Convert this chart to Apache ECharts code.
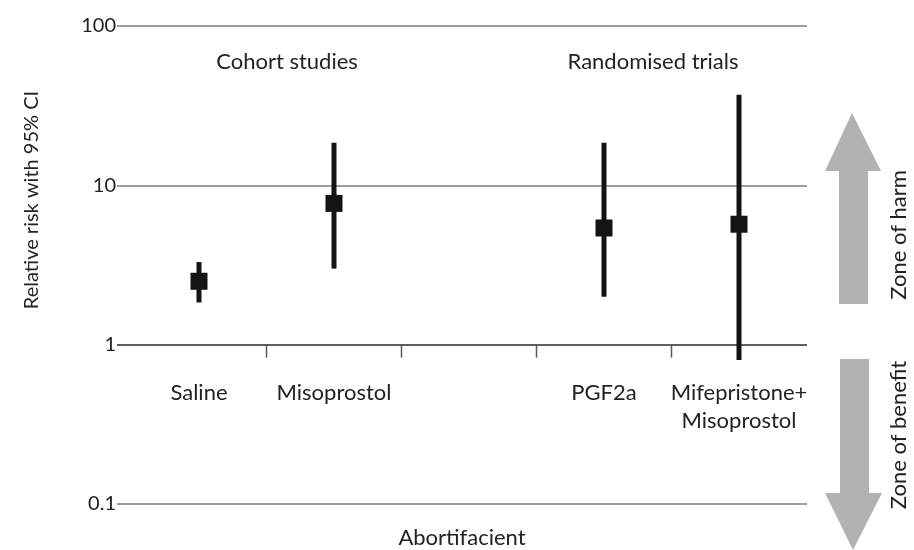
<!DOCTYPE html>
<html>
<head>
<meta charset="utf-8">
<script src="https://cdn.jsdelivr.net/npm/echarts@6/dist/echarts.min.js"></script>
<style>
  html, body { margin: 0; padding: 0; background: #ffffff; }
  #chart { width: 914px; height: 550px; }
</style>
</head>
<body>
<div id="chart"></div>
<script>
// ---- data ----
const categories = ['Saline', 'Misoprostol', '', 'PGF2a', 'Mifepristone+\nMisoprostol'];
const relativeRisk = [2.5, 7.7, null, 5.4, 5.7];
const ciLower = [1.84, 3.0, null, 2.0, 0.8];
const ciUpper = [3.3, 18.5, null, 18.5, 37];
const yMin = 0.1;
const yMax = 100;
const groupLabels = ['Cohort studies', 'Randomised trials'];
const xAxisTitle = 'Abortifacient';
const yAxisTitle = 'Relative risk with 95% CI';
const zoneLabels = ['Zone of harm', 'Zone of benefit'];
// boundaries between category bands where tick marks are drawn
const tickBoundaries = [1, 2, 3, 4];

const FONT = 'Lato';
const TXT = '#222222';

const chart = echarts.init(document.getElementById('chart'), null, { renderer: 'canvas' });

const ciData = [];
categories.forEach(function (c, i) {
  if (relativeRisk[i] != null) ciData.push([i, ciLower[i], ciUpper[i], relativeRisk[i]]);
});

function txt(x, y, text, rot, size) {
  return {
    type: 'text', x: x, y: y, rotation: rot || 0,
    style: { text: text, fill: TXT, font: (size || 22) + 'px ' + FONT, textAlign: 'center', textVerticalAlign: 'middle' }
  };
}

const option = {
  animation: false,
  backgroundColor: '#ffffff',
  textStyle: { fontFamily: FONT },
  grid: [
    { left: 117, right: 107, top: 26, bottom: 46 },
    { left: 131.5, right: 107.5, top: 26, bottom: 46 }
  ],
  xAxis: [
    { gridIndex: 0, type: 'value', min: 0, max: 1, show: false },
    {
      gridIndex: 1, type: 'category', data: categories, offset: -159,
      axisLine: { show: false, onZero: false },
      axisTick: { show: false },
      axisLabel: {
        interval: 0, margin: 34, color: TXT, fontFamily: FONT, fontSize: 22, lineHeight: 28
      },
      splitLine: { show: false }
    }
  ],
  yAxis: [
    {
      gridIndex: 0, type: 'log', logBase: 10, min: yMin, max: yMax,
      axisLine: { show: false }, axisTick: { show: false },
      axisLabel: { margin: 1, color: TXT, fontFamily: FONT, fontSize: 20 },
      splitLine: { show: true, lineStyle: { color: ['#7d7d7d', '#2a2a2a', '#7d7d7d', '#7d7d7d'], width: 1.5 } }
    },
    { gridIndex: 1, type: 'log', logBase: 10, min: yMin, max: yMax, show: false }
  ],
  series: [
    {
      type: 'custom', xAxisIndex: 1, yAxisIndex: 1, clip: false,
      data: tickBoundaries.map(function (b) { return [b, 1]; }),
      renderItem: function (params, api) {
        const p = api.coord([api.value(0), api.value(1)]);
        const band = api.size([1, 0])[0];
        const x = p[0] - band / 2;
        return {
          type: 'line',
          shape: { x1: x, y1: p[1], x2: x, y2: p[1] + 13 },
          style: { stroke: '#5a5a5a', lineWidth: 1.5 }
        };
      }
    },
    {
      type: 'custom', xAxisIndex: 1, yAxisIndex: 1, clip: false,
      data: ciData,
      renderItem: function (params, api) {
        const x = api.value(0);
        const lo = api.coord([x, api.value(1)]);
        const hi = api.coord([x, api.value(2)]);
        const mid = api.coord([x, api.value(3)]);
        const s = 17;
        return {
          type: 'group',
          children: [
            { type: 'line', shape: { x1: lo[0], y1: lo[1], x2: hi[0], y2: hi[1] },
              style: { stroke: '#141414', lineWidth: 5 } },
            { type: 'rect', shape: { x: mid[0] - s / 2, y: mid[1] - s / 2, width: s, height: s },
              style: { fill: '#141414' } }
          ]
        };
      }
    }
  ],
  graphic: [
    txt(287, 62, groupLabels[0]),
    txt(653, 62, groupLabels[1]),
    txt(462, 538, xAxisTitle),
    txt(32, 200, yAxisTitle, Math.PI / 2, 20),
    { type: 'polygon', shape: { points: [[852,113],[881,171],[868,171],[868,304],[839,304],[839,171],[825,171]] }, style: { fill: '#b2b2b2' } },
    { type: 'polygon', shape: { points: [[840,359],[869,359],[869,493],[882,493],[853,550],[825,493],[840,493]] }, style: { fill: '#b2b2b2' } },
    txt(899, 235, zoneLabels[0], Math.PI / 2),
    txt(899, 435, zoneLabels[1], Math.PI / 2)
  ]
};
chart.setOption(option);
</script>
</body>
</html>
